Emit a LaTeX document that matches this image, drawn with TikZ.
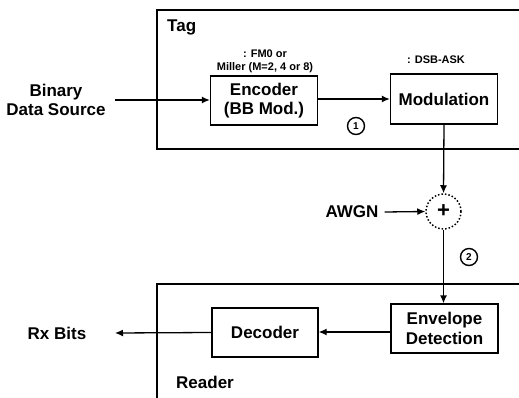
\documentclass[tikz,border=0pt]{standalone}
\usepackage{fontspec}
\setmainfont{Liberation Sans}
\usetikzlibrary{arrows.meta}
\tikzset{
  blk/.style={draw, line width=1.3pt, inner sep=0pt, align=center, font=\bfseries\fontsize{17}{19.5}\selectfont},
  lbl/.style={inner sep=0pt, align=center, font=\bfseries\fontsize{17}{19.5}\selectfont},
  small/.style={inner sep=0pt, align=center, font=\bfseries\fontsize{11}{13}\selectfont},
  num/.style={draw, circle, line width=1.4pt, minimum size=17pt, inner sep=0pt, font=\bfseries\fontsize{10}{10}\selectfont},
  arr/.style={line width=1.3pt, -{Latex[length=8pt,width=7pt]}},
  frame/.style={line width=1.3pt}
}
\begin{document}
\begin{tikzpicture}[x=1pt,y=-1pt]
\useasboundingbox (0,0) rectangle (519,398);
% containers
\draw[frame] (525,10) -- (157,10) -- (157,149) -- (525,149);
\draw[frame] (525,284) -- (157,284) -- (157,405);
\node[lbl, anchor=west] (tag) at (167,27) {Tag};
\node[lbl, anchor=west] (reader) at (176,382) {Reader};
% blocks
\node[blk, minimum width=107pt, minimum height=49pt] (enc) at (264,100.5) {Encoder\\(BB Mod.)};
\node[blk, minimum width=107pt, minimum height=50pt] (mod) at (444,99) {Modulation};
\node[blk, minimum width=107pt, minimum height=49pt] (env) at (444.5,328.5) {Envelope\\Detection};
\node[blk, minimum width=106pt, minimum height=49pt] (dec) at (265,332.5) {Decoder};
\node[draw, circle, dotted, line width=1.5pt, minimum size=35pt, inner sep=0pt, font=\bfseries\fontsize{22}{22}\selectfont] (sum) at (443.5,211.5) {+};
% labels
\node[lbl] (src) at (56,100) {Binary\\Data Source};
\node[lbl] (rx) at (57,333) {Rx Bits};
\node[lbl] (awgn) at (352,212) {AWGN};
\node[small] (encnote) at (265,61) {: FM0 or\\Miller (M=2, 4 or 8)};
\node[small] (modnote) at (436,60) {: DSB-ASK};
\node[num] (n1) at (356,126) {1};
\node[num] (n2) at (469,257) {2};
% connectors
\coordinate (srcend) at (115,100);
\coordinate (rxend) at (115,333);
\draw[arr] (srcend) -- (enc.west |- srcend);
\draw[arr] (enc.east |- mod.west) -- (mod.west);
\draw[arr] (mod.south) -- (sum.north);
\draw[arr] (awgn.east) ++(6,0) -- (sum.west);
\draw[arr] (sum.south) -- (env.north -| sum.south);
\draw[arr] (env.west |- 0,332) -- (dec.east |- 0,332);
\draw[arr] (dec.west) -- (rxend);
\end{tikzpicture}
\end{document}
